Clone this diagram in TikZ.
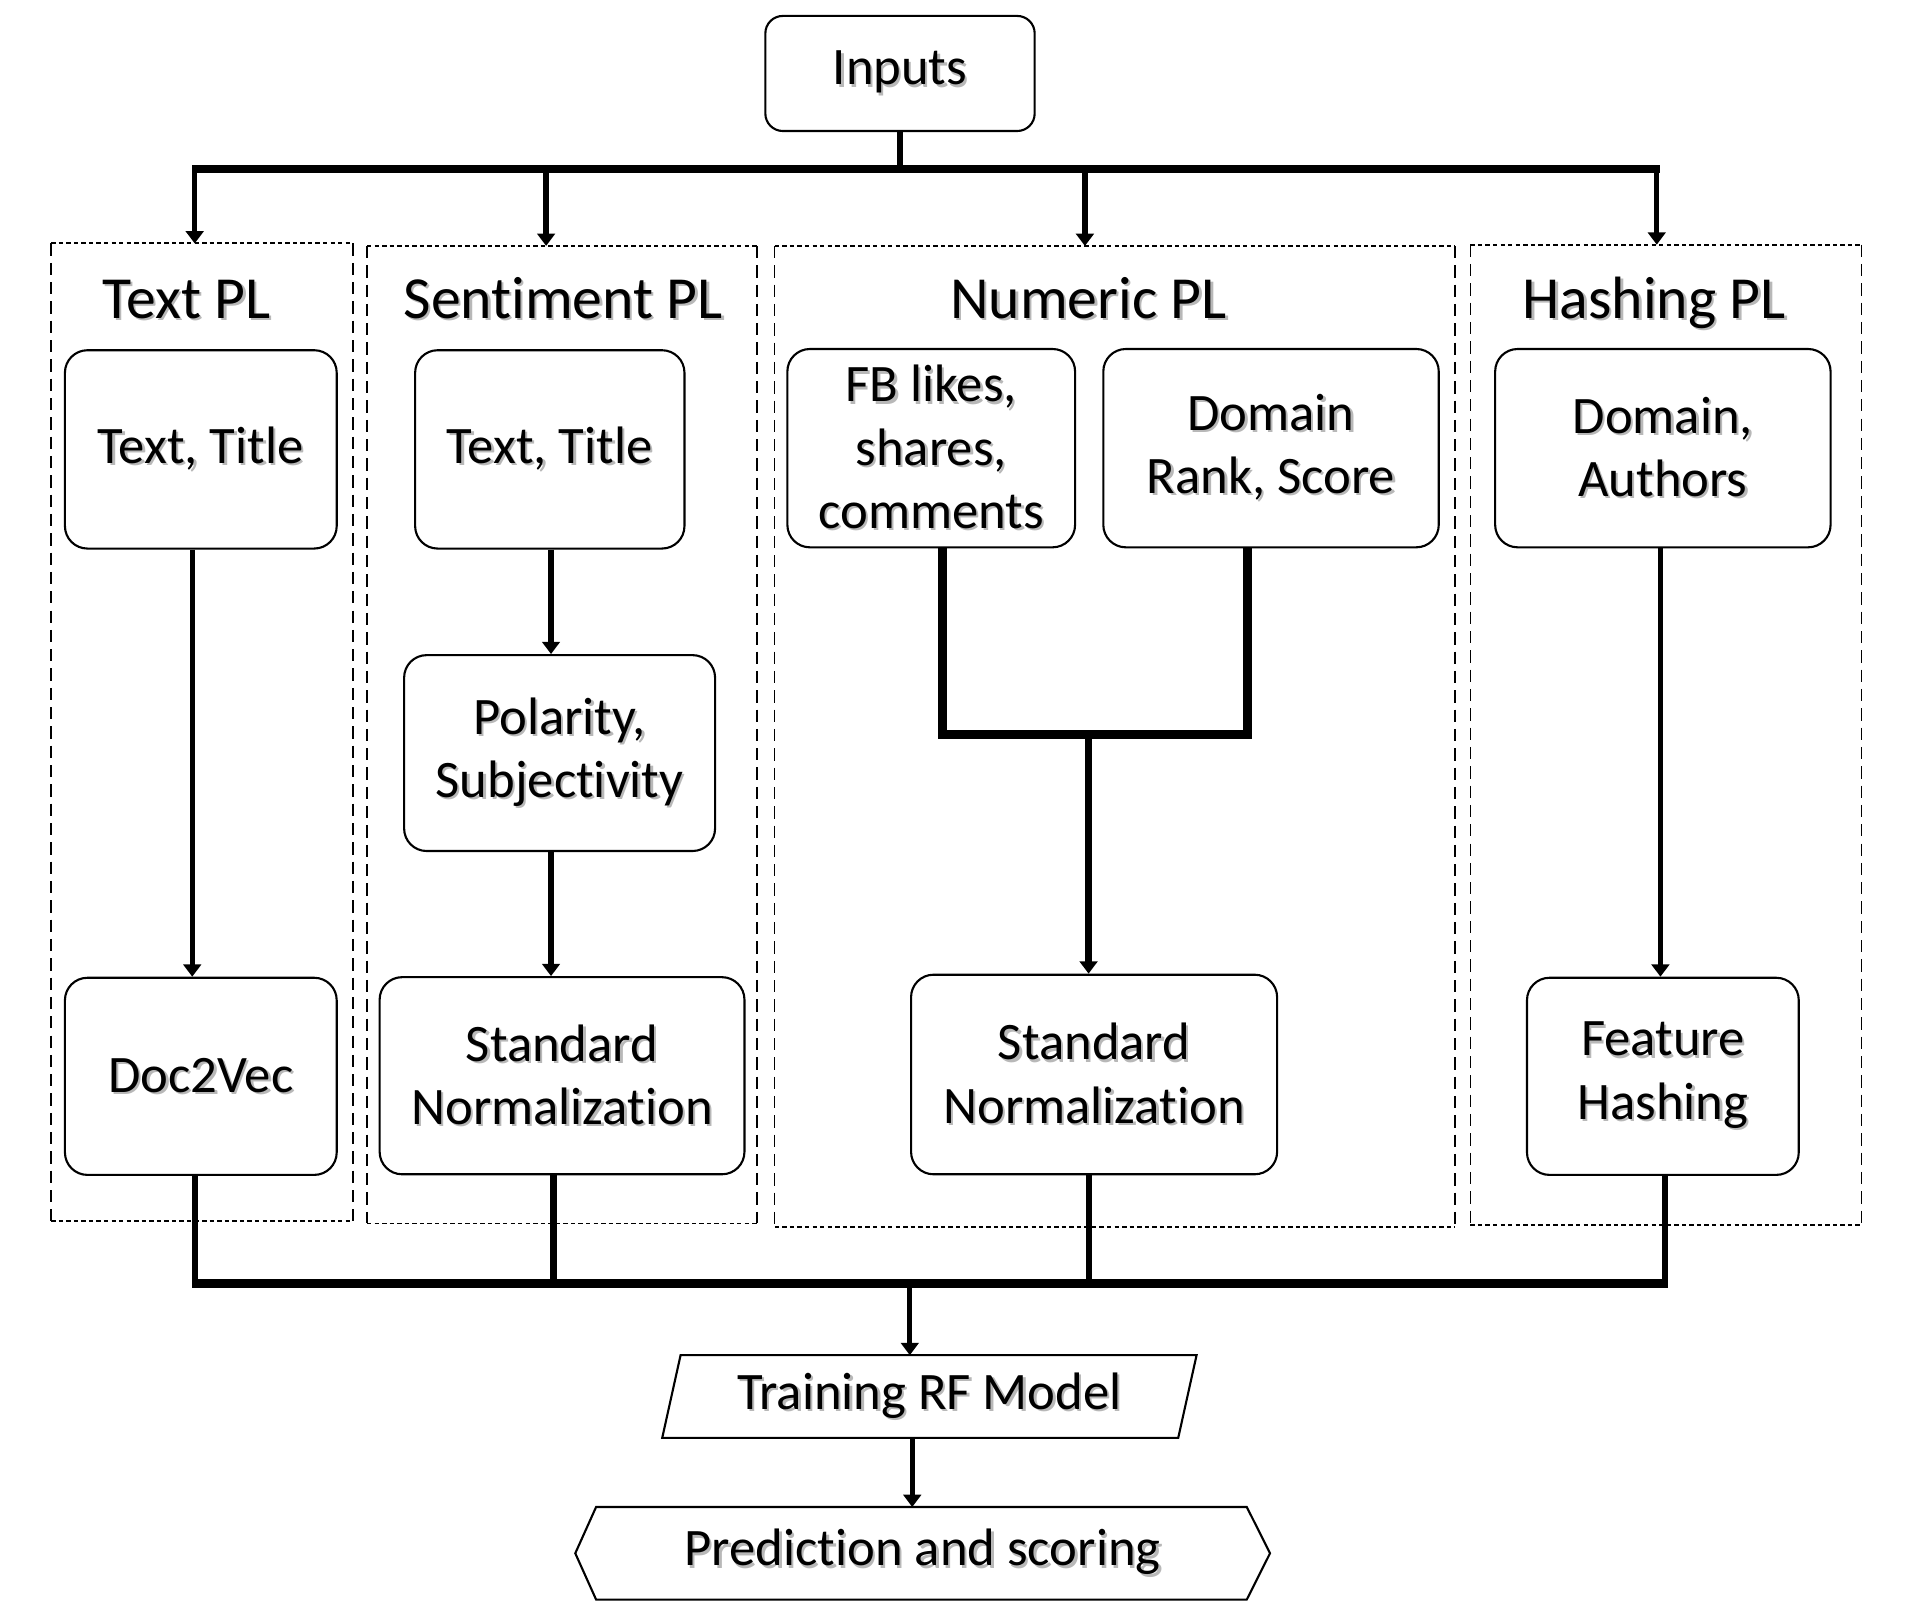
\documentclass[tikz,border=0pt]{standalone}
\usepackage{fontspec}
\setmainfont{Carlito}
\usetikzlibrary{arrows.meta,calc}
\newcommand\shd[1]{\leavevmode\rlap{\kern1.3pt\raisebox{-1.3pt}{\textcolor{black!28}{#1}}}#1}
\newcommand\nl{\kern0pt}
\begin{document}
\begin{tikzpicture}[x=0.0245cm,y=-0.0245cm,
  box/.style 2 args={draw, line width=1.2pt, rounded corners=0.45cm, minimum width=#1, minimum height=#2, align=center, inner sep=0pt, font=\fontsize{30}{36}\selectfont},
  title/.style={anchor=base, inner sep=0pt, font=\fontsize{34}{40}\selectfont},
  grp/.style 2 args={minimum width=#1, minimum height=#2, inner sep=0pt},
  vd/.style={line width=0.7pt, dash pattern=on 7pt off 4pt},
  hd/.style={line width=1.1pt, dash pattern=on 2.5pt off 1.8pt},
  arr/.style={line width=3pt, -{Triangle[length=7pt,width=10pt]}},
  bus/.style={line width=5pt, line join=miter},
  ln/.style={line width=3.5pt},
  shp/.style={line width=1.2pt},
  plain/.style 2 args={inner sep=0pt, minimum width=#1, minimum height=#2, font=\fontsize{30}{36}\selectfont}
]
\useasboundingbox (0,0) rectangle (1568,1320);

% groups
\node[grp={6.027cm}{19.55cm}] (g1) at (165,598) {};
\node[grp={7.791cm}{19.55cm}] (g2) at (459,600) {};
\node[grp={13.6cm}{19.62cm}] (g3) at (910.5,601.5) {};
\node[grp={7.816cm}{19.6cm}] (g4) at (1360.5,600) {};
\foreach \g in {g1,g2,g3,g4}{
  \draw[vd] (\g.north west) -- (\g.south west) (\g.north east) -- (\g.south east);
  \draw[hd] (\g.north west) -- (\g.north east) (\g.south west) -- (\g.south east);
}

% titles
\node[title] (t1) at (152.5,260) {\shd{Text PL}};
\node[title] (t2) at (460,260) {\shd{Sent\nl iment PL}};
\node[title] (t3) at (889,260) {\shd{Numeric PL}};
\node[title] (t4) at (1351,260) {\shd{Hashing PL}};

% boxes
\node[box={5.39cm}{2.303cm}, rounded corners=0.35cm] (inputs) at (735,60) {\shd{Inputs}};
\node[box={5.439cm}{3.969cm}] (tt1) at (164,367) {\shd{Text, Title}};
\node[box={5.439cm}{3.945cm}] (doc) at (164,879) {\shd{Doc2Vec}};
\node[box={5.39cm}{3.969cm}] (tt2) at (449,367) {\shd{Text, Title}};
\node[box={6.223cm}{3.92cm}] (pol) at (457,615) {\shd{Polarity,}\\\shd{Subject\nl ivity}};
\node[box={7.301cm}{3.945cm}] (sn1) at (459,878.5) {\shd{Standard}\\\shd{Normalizat\nl ion}};
\node[box={5.758cm}{3.969cm}] (fb) at (760.5,366) {\shd{FB likes,}\\\shd{shares,}\\\shd{comments}};
\node[box={6.713cm}{3.969cm}] (dr) at (1038,366) {\shd{Domain}\\\shd{Rank, Score}};
\node[box={7.326cm}{3.994cm}] (sn2) at (893.5,877.5) {\shd{Standard}\\\shd{Normalizat\nl ion}};
\node[box={6.713cm}{3.969cm}] (da) at (1358,366) {\shd{Domain,}\\\shd{Authors}};
\node[box={5.439cm}{3.945cm}] (fh) at (1358,879) {\shd{Feature}\\\shd{Hashing}};

\node[plain={10.68cm}{1.642cm}] (train) at (759,1140.5) {\shd{Training RF Model}};
\draw[shp] ($(train.north west)+(15,0)$) -- (train.north east) -- ($(train.south east)+(-15,0)$) -- (train.south west) -- cycle;
\node[plain={13.89cm}{1.838cm}] (pred) at (753.5,1268.5) {\shd{Predict\nl ion and scoring}};
\draw[shp] (pred.west) -- ($(pred.north west)+(17,0)$) -- ($(pred.north east)+(-19,0)$) -- (pred.east) -- ($(pred.south east)+(-19,0)$) -- ($(pred.south west)+(17,0)$) -- cycle;

% top connectors
\coordinate (tb) at (735,138);
\coordinate (tbl) at (157,138);
\coordinate (tbr) at (1356,138);
\draw[ln] (inputs.south) -- (tb);
\draw[bus] (tbl) -- (tbr);
\coordinate (a1) at (159,138);
\coordinate (a2) at (446,138);
\coordinate (a3) at (886,138);
\coordinate (a4) at (1353,138);
\draw[arr] (a1) -- (a1 |- g1.north);
\draw[arr] (a2) -- (a2 |- g2.north);
\draw[arr] (a3) -- (a3 |- g3.north);
\draw[arr] (a4) -- (a4 |- g4.north);

% column connectors
\coordinate (c1) at (157,0);
\draw[arr] (tt1.south -| c1) -- (doc.north -| c1);
\coordinate (c2) at (450,0);
\draw[arr] (tt2.south -| c2) -- (pol.north -| c2);
\draw[arr] (pol.south -| c2) -- (sn1.north -| c2);
\coordinate (c3a) at (770,600);
\coordinate (c3b) at (1019,600);
\coordinate (c3m) at (889,600);
\draw[bus] (fb.south -| c3a) -- (c3a) -- (c3b) -- (dr.south -| c3b);
\draw[arr, line width=3.8pt] (c3m) -- (sn2.north -| c3m);
\coordinate (c4) at (1356,0);
\draw[arr] (da.south -| c4) -- (fh.north -| c4);

% bottom connectors
\coordinate (b1) at (159,1048);
\coordinate (b2) at (452,1048);
\coordinate (b3) at (889,1048);
\coordinate (b4) at (1360,1048);
\draw[ln] (doc.south -| b1) -- (b1);
\draw[ln] (sn1.south -| b2) -- (b2);
\draw[ln] (sn2.south -| b3) -- (b3);
\draw[ln] (fh.south -| b4) -- (b4);
\coordinate (bbl) at (157,1048);
\coordinate (bbr) at (1362,1048);
\draw[bus] (bbl) -- (bbr);
\coordinate (bm) at (743,1048);
\draw[arr] (bm) -- (train.north -| bm);
\coordinate (tm) at (745,0);
\draw[arr] (train.south -| tm) -- (pred.north -| tm);
\end{tikzpicture}
\end{document}
